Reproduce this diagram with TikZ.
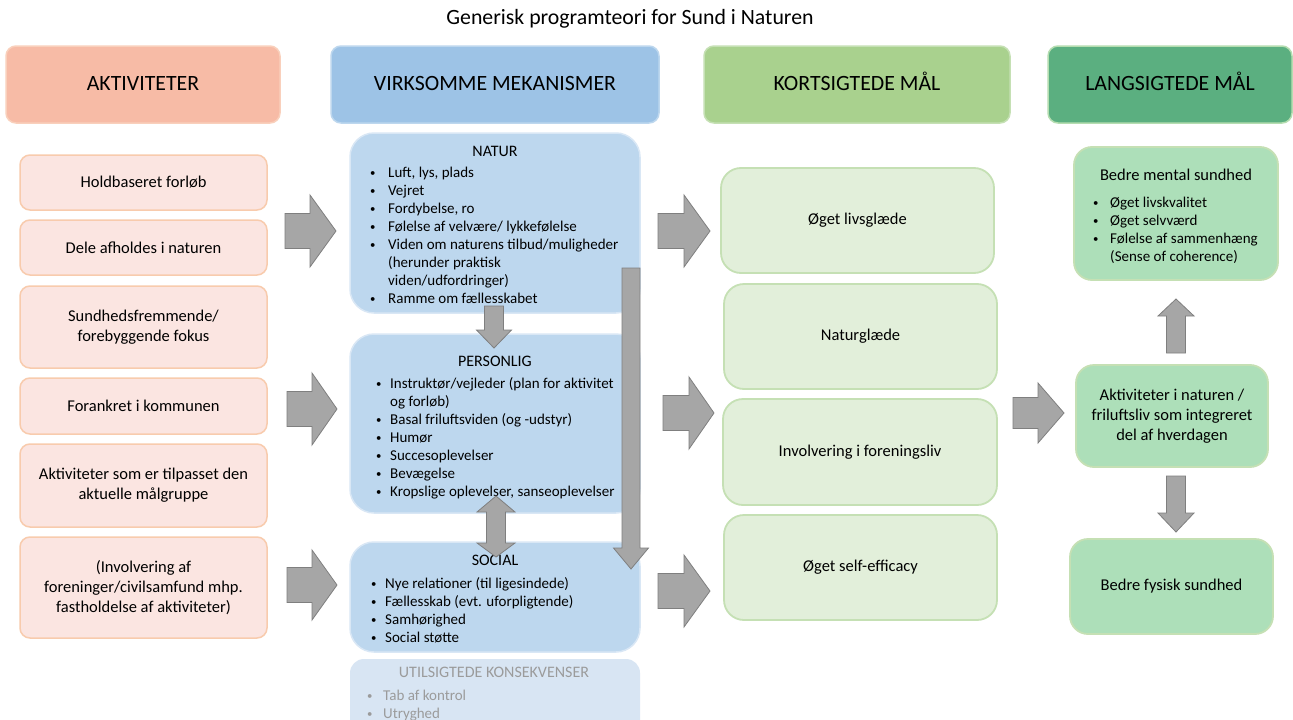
\documentclass[tikz,border=0pt]{standalone}
\usepackage{fontspec}
\usepackage{graphicx}
\setmainfont{Carlito}
\definecolor{hAfill}{HTML}{F7BBA6}
\definecolor{hAdraw}{HTML}{F9D0BC}
\definecolor{hBfill}{HTML}{9DC3E6}
\definecolor{hBdraw}{HTML}{BDD7EE}
\definecolor{hCfill}{HTML}{A9D18E}
\definecolor{hCdraw}{HTML}{C5E0B4}
\definecolor{hDfill}{HTML}{5BAF80}
\definecolor{hDdraw}{HTML}{B5DDB0}
\definecolor{aFill}{HTML}{FBE5E1}
\definecolor{aDraw}{HTML}{F8CBAD}
\definecolor{mFill}{HTML}{BDD7EE}
\definecolor{mDraw}{HTML}{D9E7F5}
\definecolor{uFill}{HTML}{D8E5F3}
\definecolor{uText}{HTML}{9B9B9B}
\definecolor{sFill}{HTML}{E2EFDA}
\definecolor{sDraw}{HTML}{C5E0B4}
\definecolor{lFill}{HTML}{ADDFB9}
\definecolor{lDraw}{HTML}{C5E0B4}
\definecolor{arrFill}{HTML}{A6A6A6}
\definecolor{arrDraw}{HTML}{7F7F7F}
\newcommand\bul{\raisebox{0.8pt}{\scalebox{0.72}{\textbullet}}}
\newcommand\rarr[6]{\draw[blk] (#1,#4-#5) -- (#3,#4-#5) -- (#3,#4-#6) -- (#2,#4) -- (#3,#4+#6) -- (#3,#4+#5) -- (#1,#4+#5) -- cycle;}
\newcommand\varr[6]{\draw[blk] (#1-#5,#2) -- (#1+#5,#2) -- (#1+#5,#3) -- (#1+#6,#3) -- (#1,#4) -- (#1-#6,#3) -- (#1-#5,#3) -- cycle;}
\begin{document}
\begin{tikzpicture}[x=1pt,y=-1pt,
  hdr/.style={rounded corners=10pt, line width=1.5pt, font=\fontsize{21.8}{26}\selectfont, text=black, text height=15.5pt, text depth=4.5pt},
  act/.style={rounded corners=10pt, line width=1.5pt, draw=aDraw, fill=aFill, align=center, font=\fontsize{16.5}{20}\selectfont},
  mech/.style={rounded corners=24pt, line width=1.5pt, draw=mDraw, fill=mFill},
  st/.style={rounded corners=20pt, line width=1.8pt, draw=sDraw, fill=sFill, align=center, font=\fontsize{16.5}{20}\selectfont},
  lt/.style={rounded corners=18pt, line width=1.8pt, draw=lDraw, fill=lFill, align=center, font=\fontsize{16.5}{20}\selectfont},
  ttl/.style={inner sep=0pt, font=\fontsize{16}{19}\selectfont},
  lst/.style={inner sep=0pt, anchor=base west, font=\fontsize{15}{18}\selectfont},
  blk/.style={fill=arrFill, draw=arrDraw, line width=0.8pt, line join=miter}]
\useasboundingbox (0,0) rectangle (1293,720);
\clip (0,0) rectangle (1293,720);
\fill[white] (0,0) rectangle (1293,720);

% title
\node[font=\fontsize{21.8}{26}\selectfont] (title) at (630,19) {Generisk programteori for Sund i Naturen};

% headers
\node[hdr, draw=hAdraw, fill=hAfill, minimum width=274, minimum height=77] (hA) at (143,84.5) {AKTIVITETER};
\node[hdr, draw=hBdraw, fill=hBfill, minimum width=328, minimum height=77] (hB) at (495,84.5) {VIRKSOMME MEKANISMER};
\node[hdr, draw=hCdraw, fill=hCfill, minimum width=306, minimum height=77] (hC) at (857,84.5) {KORTSIGTEDE MÅL};
\node[hdr, draw=hDdraw, fill=hDfill, minimum width=244, minimum height=77] (hD) at (1170,84.5) {LANGSIGTEDE MÅL};

% activities
\node[act, minimum width=247, minimum height=55] (a1) at (143.5,182.5) {Holdbaseret forløb};
\node[act, minimum width=247, minimum height=55] (a2) at (143.5,247.5) {Dele afholdes i naturen};
\node[act, minimum width=247, minimum height=82] (a3) at (143.5,327) {Sundhedsfremmende/\\forebyggende fokus};
\node[act, minimum width=247, minimum height=56] (a4) at (143.5,406) {Forankret i kommunen};
\node[act, minimum width=247, minimum height=83] (a5) at (143.5,485.5) {Aktiviteter som er tilpasset den\\aktuelle målgruppe};
\node[act, minimum width=247, minimum height=101] (a6) at (143.5,587.5) {(Involvering af\\foreninger/civilsamfund mhp.\\fastholdelse af aktiviteter)};

% mechanisms
\node[mech, minimum width=290, minimum height=180] (m1) at (495,223) {};
\node[mech, minimum width=290, minimum height=179] (m2) at (495,423.5) {};
\node[mech, minimum width=290, minimum height=110] (m3) at (495,597) {};
\node[mech, draw=none, fill=uFill, rounded corners=14pt, minimum width=290, minimum height=100] (m4) at (495,709) {};

\node[ttl] (m1t) at (495,151) {NATUR};
\node[lst] (m1l) at (370,177) {\begin{tabular}[t]{@{}p{18pt}@{}l@{}}
\bul & Luft, lys, plads\\
\bul & Vejret\\
\bul & Fordybelse, ro\\
\bul & Følelse af velvære/ lykkefølelse\\
\bul & Viden om naturens tilbud/muligheder\\
 & (herunder praktisk\\
 & viden/udfordringer)\\
\bul & Ramme om fællesskabet
\end{tabular}};

\node[ttl] (m2t) at (495,361) {PERSONLIG};
\node[lst] (m2l) at (376,388) {\begin{tabular}[t]{@{}p{14pt}@{}l@{}}
\bul & Instruktør/vejleder (plan for aktivitet\\
 & og forløb)\\
\bul & Basal friluftsviden (og -udstyr)\\
\bul & Humør\\
\bul & Succesoplevelser\\
\bul & Bevægelse\\
\bul & Kropslige oplevelser, sanseoplevelser
\end{tabular}};

\node[ttl] (m3t) at (495,560) {SOCIAL};
\node[lst] (m3l) at (371,588) {\begin{tabular}[t]{@{}p{14pt}@{}l@{}}
\bul & Nye relationer (til ligesindede)\\
\bul & Fællesskab (evt. uforpligtende)\\
\bul & Samhørighed\\
\bul & Social støtte
\end{tabular}};

\node[ttl, text=uText] (m4t) at (494,672) {UTILSIGTEDE KONSEKVENSER};
\node[lst, text=uText] (m4l) at (367,700) {\begin{tabular}[t]{@{}p{16pt}@{}l@{}}
\bul & Tab af kontrol\\
\bul & Utryghed
\end{tabular}};

% short-term goals
\node[st, minimum width=273, minimum height=105] (s1) at (857.5,220.5) {Øget livsglæde};
\node[st, minimum width=273, minimum height=105] (s2) at (860.5,336.5) {Naturglæde};
\node[st, minimum width=274, minimum height=106] (s3) at (860,452) {Involvering i foreningsliv};
\node[st, minimum width=273, minimum height=105] (s4) at (860.5,567.5) {Øget self-efficacy};

% long-term goals
\node[lt, minimum width=204, minimum height=133] (l1) at (1176,213.5) {};
\node[ttl, font=\fontsize{16.5}{20}\selectfont] (l1t) at (1176,175) {Bedre mental sundhed};
\node[lst] (l1l) at (1093,207) {\begin{tabular}[t]{@{}p{17pt}@{}l@{}}
\bul & Øget livskvalitet\\
\bul & Øget selvværd\\
\bul & Følelse af sammenhæng\\
 & (Sense of coherence)
\end{tabular}};
\node[lt, minimum width=192, minimum height=102] (l2) at (1172,416) {Aktiviteter i naturen /\\friluftsliv som integreret\\del af hverdagen};
\node[lt, minimum width=203, minimum height=95] (l3) at (1171.5,586.5) {Bedre fysisk sundhed};

% block arrows: activities -> mechanisms
\rarr{285}{336}{310}{231}{17.5}{36}
\rarr{287}{337}{312}{409}{17.5}{36}
\rarr{287}{337}{312}{585}{17.5}{35}
% mechanisms -> short-term
\rarr{658}{710}{684}{231}{17.5}{36}
\rarr{663}{714}{689}{413}{17.5}{36}
\rarr{658}{710}{684}{591}{17.5}{36}
% short-term -> long-term
\rarr{1013}{1064}{1038}{413}{15.5}{30}

% vertical arrows in mechanisms column
\varr{494}{306}{330}{348}{9.5}{17.5}
\draw[blk] (496,496) -- (515,512) -- (505.5,512) -- (505.5,543) -- (515,543) -- (496,557) -- (477,543) -- (486.5,543) -- (486.5,512) -- (477,512) -- cycle;
\varr{631}{268}{548}{569}{9}{17.5}

% long-term vertical arrows
\varr{1176}{353}{316}{299}{9.5}{18}
\varr{1176}{476}{513}{532}{9.5}{18}
\end{tikzpicture}
\end{document}
